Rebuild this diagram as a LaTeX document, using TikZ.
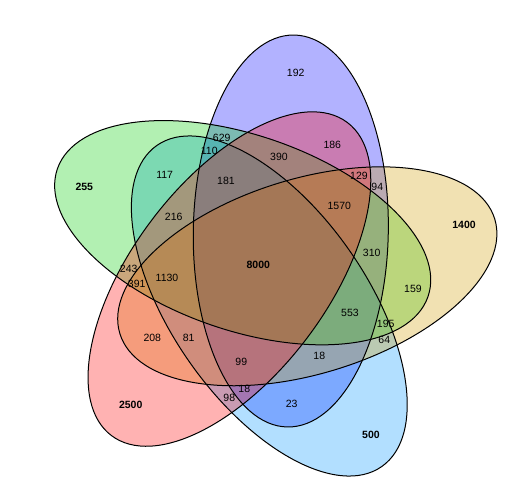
\documentclass[tikz,border=0pt]{standalone}
\usepackage{fontspec}
\setmainfont{Liberation Sans}
\usepackage{xcolor}
\usepackage{tikz}

\definecolor{setblue}{RGB}{0,0,255}
\definecolor{setsky}{RGB}{0,150,255}
\definecolor{setgreen}{RGB}{0,205,0}
\definecolor{setred}{RGB}{255,0,0}
\definecolor{setgold}{RGB}{210,155,0}

\begin{document}
\begin{tikzpicture}[x=1pt, y=1pt,
        setfill/.style={fill opacity=0.3},
        rim/.style={draw=black, line width=1pt},
        count/.style={font=\fontsize{10.5}{12}\selectfont, inner sep=0pt},
        total/.style={count, font=\fontsize{10.5}{12}\selectfont\bfseries}]
        \useasboundingbox (0,0) rectangle (524,487);

        % Ellipse centres
        \coordinate (cblue) at (290.8,256);
        \coordinate (cgreen) at (242.7,254.3);
        \coordinate (cred) at (229.4,208);
        \coordinate (csky) at (269.3,181);
        \coordinate (cgold) at (307.3,210.7);

        % Fills
        \fill[setfill, setblue, rotate around={89:(cblue)}] (cblue) ellipse [x radius=196, y radius=97.5];
        \fill[setfill, setsky, rotate around={305:(csky)}] (csky) ellipse [x radius=196, y radius=97.5];
        \fill[setfill, setgreen, rotate around={161:(cgreen)}] (cgreen) ellipse [x radius=196, y radius=97.5];
        \fill[setfill, setgold, rotate around={17:(cgold)}] (cgold) ellipse [x radius=196, y radius=97.5];
        \fill[setfill, setred, rotate around={233:(cred)}] (cred) ellipse [x radius=196, y radius=97.5];

        % Outlines
        \draw[rim, rotate around={89:(cblue)}] (cblue) ellipse [x radius=196, y radius=97.5];
        \draw[rim, rotate around={305:(csky)}] (csky) ellipse [x radius=196, y radius=97.5];
        \draw[rim, rotate around={161:(cgreen)}] (cgreen) ellipse [x radius=196, y radius=97.5];
        \draw[rim, rotate around={17:(cgold)}] (cgold) ellipse [x radius=196, y radius=97.5];
        \draw[rim, rotate around={233:(cred)}] (cred) ellipse [x radius=196, y radius=97.5];

        % Single sets
        \node (blueonly) [count] at (295.7,414.3) {192};
        \node (greenonly) [total] at (84.3,300.3) {255};
        \node (goldonly) [total] at (464,262) {1400};
        \node (redonly) [total] at (130.7,81.7) {2500};
        \node (skyonly) [total] at (371,52.3) {500};

        % Upper overlaps
        \node (c629) [count] at (221.7,349.3) {629};
        \node (c110) [count] at (209.3,336) {110};
        \node (c186) [count] at (332.3,342) {186};
        \node (c390) [count] at (279,330.3) {390};
        \node (c117) [count] at (164.7,312) {117};
        \node (c181) [count] at (226,305.7) {181};
        \node (c129) [count] at (359,311) {129};
        \node (c94) [count] at (377.3,299.7) {94};
        \node (c1570) [count] at (339.3,281.3) {1570};
        \node (c216) [count] at (173.7,269.7) {216};

        % Middle overlaps
        \node (c310) [count] at (371.7,233.7) {310};
        \node (all) [total] at (258.3,221.7) {8000};
        \node (c243) [count] at (128.7,217.7) {243};
        \node (c1130) [count] at (167,209.3) {1130};
        \node (c391) [count] at (136.7,203) {391};
        \node (c159) [count] at (413,197.7) {159};
        \node (c553) [count] at (350,173.7) {553};
        \node (c195) [count] at (385.7,162.7) {195};

        % Lower overlaps
        \node (c208) [count] at (152.3,149) {208};
        \node (c81) [count] at (188.7,149) {81};
        \node (c64) [count] at (384.3,146.7) {64};
        \node (c18a) [count] at (319.3,131.3) {18};
        \node (c99) [count] at (241.3,125.3) {99};
        \node (c18b) [count] at (244.3,97.7) {18};
        \node (c98) [count] at (229.3,89.3) {98};
        \node (c23) [count] at (291.7,83) {23};
\end{tikzpicture}
\end{document}
